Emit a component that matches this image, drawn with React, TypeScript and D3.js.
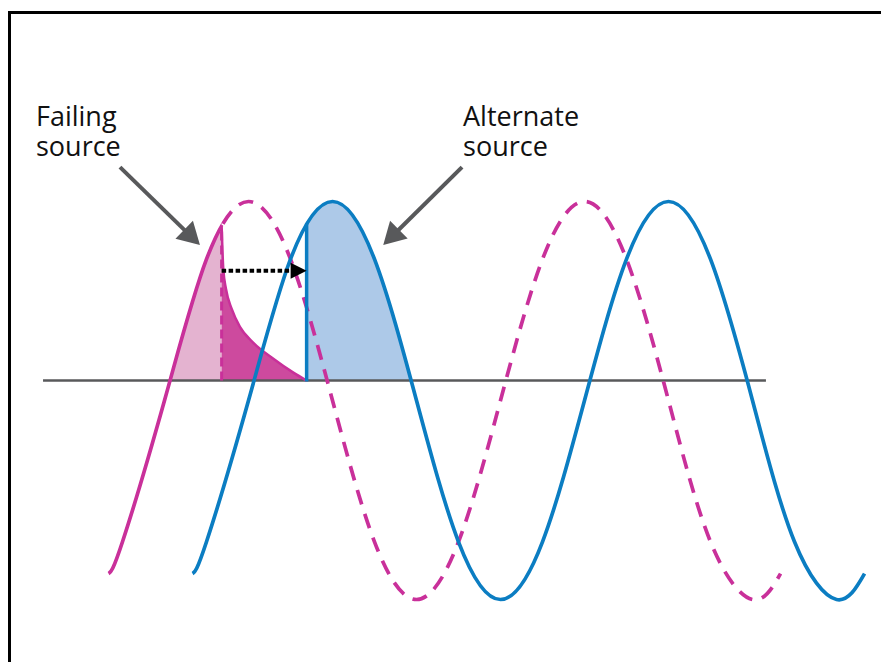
import * as d3 from 'd3';

// time in ms (50 Hz, 20 ms per cycle), value in per-unit of peak voltage
const failingT = [-3.33, -2.5, 0, 2.5, 5, 7.5, 10, 12.5, 15, 17.5, 20, 22.5, 25, 27.5, 30, 32.5, 35, 36.67];
const failingV = [-0.87, -0.71, 0, 0.71, 1, 0.71, 0, -0.71, -1, -0.71, 0, 0.71, 1, 0.71, 0, -0.71, -1, -0.87];

const alternateT = [1.67, 2.5, 5, 7.5, 10, 12.5, 15, 17.5, 20, 22.5, 25, 27.5, 30, 32.5, 35, 37.5, 40, 41.67];
const alternateV = [-0.87, -0.71, 0, 0.71, 1, 0.71, 0, -0.71, -1, -0.71, 0, 0.71, 1, 0.71, 0, -0.71, -1, -0.87];

// residual voltage of the failing source after it is cut off
const decayT = [3.4, 3.5, 3.66, 4.0, 4.49, 5.29, 6.48, 7.67, 8.46];
const decayV = [0.88, 0.66, 0.56, 0.46, 0.37, 0.29, 0.21, 0.14, 0.1];

const cutT = 3.4; // failing source drops out
const switchT = 8.46; // alternate source connected
const transferV = 0.652;
const baselineT = [-7.23, 35.8];
const baselineV = 0.1;
const fillEndT = 15;

const labelText = [['Failing', 'source'], ['Alternate', 'source']];
const labelT = [-7.65, 17.77];
const labelV = 1.379;
const pointerFrom = [[-2.65, 1.173], [17.71, 1.173]];
const pointerTo = [[2.11, 0.781], [13.02, 0.781]];

const W = 881;
const H = 662;
const MAGENTA = '#c9309a';
const BLUE = '#0b7dc2';
const GREY = '#58595b';

type Pt = [number, number];
const zip = (t: number[], v: number[]): Pt[] => t.map((d, i) => [d, v[i]]);

export default function App() {
  const x = d3.scaleLinear().domain([0, 20]).range([164.5, 500.5]);
  const y = d3.scaleLinear().domain([-1, 1]).range([599.5, 201.5]);

  const failing = zip(failingT, failingV);
  const alternate = zip(alternateT, alternateV);
  const decay = zip(decayT, decayV);

  const line = d3.line<Pt>().x((d) => x(d[0])).y((d) => y(d[1])).curve(d3.curveNatural);
  const area = d3
    .area<Pt>()
    .x((d) => x(d[0]))
    .y0(y(baselineV))
    .y1((d) => y(d[1]))
    .curve(d3.curveNatural);
  const decayLine = d3.line<Pt>().x((d) => x(d[0])).y((d) => y(d[1])).curve(d3.curveMonotoneX);
  const decayArea = d3
    .area<Pt>()
    .x((d) => x(d[0]))
    .y0(y(baselineV))
    .y1((d) => y(d[1]))
    .curve(d3.curveMonotoneX);

  const yBase = y(baselineV);
  const xCut = x(cutT);
  const xSwitch = x(switchT);

  // annotation pointers with filled heads
  const pointers = pointerFrom.map((from, i) => {
    const x1 = x(from[0]);
    const y1 = y(from[1]);
    const x2 = x(pointerTo[i][0]);
    const y2 = y(pointerTo[i][1]);
    const len = Math.hypot(x2 - x1, y2 - y1);
    const ux = (x2 - x1) / len;
    const uy = (y2 - y1) / len;
    const headL = 22;
    const headW = 12.5;
    const bx = x2 - ux * headL;
    const by = y2 - uy * headL;
    const head = [
      [x2, y2],
      [bx - uy * headW, by + ux * headW],
      [bx + uy * headW, by - ux * headW],
    ];
    return { x1, y1, x2: bx + ux * 2, y2: by + uy * 2, head: head.map((p) => p.join(',')).join(' ') };
  });

  const yTransfer = y(transferV);

  return (
    <svg
      width={W}
      height={H}
      style={{ position: 'absolute', left: 0, top: 0, background: '#fff' }}
      fontFamily="'Open Sans', 'Noto Sans', sans-serif"
    >
      <defs>
        <clipPath id="solidPart">
          <rect x={0} y={0} width={xCut} height={H} />
        </clipPath>
        <clipPath id="dashedPart">
          <rect x={xCut} y={0} width={W} height={H} />
        </clipPath>
        <clipPath id="pinkFill">
          <rect x={0} y={0} width={xCut} height={yBase} />
        </clipPath>
        <clipPath id="blueFill">
          <rect x={xSwitch} y={0} width={x(fillEndT) - xSwitch} height={yBase} />
        </clipPath>
      </defs>

      {/* frame, open to the right and bottom */}
      <path d={`M9.5,${H} V12.5 H${W}`} fill="none" stroke="#000" strokeWidth={3} />

      {/* fills */}
      <path d={area(failing) ?? ''} fill="#e4b3d0" clipPath="url(#pinkFill)" />
      <path d={decayArea(decay) ?? ''} fill="#cd4a9e" />
      <path d={area(alternate) ?? ''} fill="#adc9e8" clipPath="url(#blueFill)" />

      {/* zero line */}
      <line x1={x(baselineT[0])} x2={x(baselineT[1])} y1={yBase} y2={yBase} stroke={GREY} strokeWidth={2.5} />

      {/* cut-off marker */}
      <line
        x1={xCut}
        x2={xCut}
        y1={yBase}
        y2={y(decayV[0])}
        stroke={MAGENTA}
        strokeWidth={3}
        strokeDasharray="9 5"
      />
      <path d={decayLine(decay) ?? ''} fill="none" stroke={MAGENTA} strokeWidth={2.5} />

      {/* failing source */}
      <path d={line(failing) ?? ''} fill="none" stroke={MAGENTA} strokeWidth={3.7} clipPath="url(#solidPart)" />
      <path
        d={line(failing) ?? ''}
        fill="none"
        stroke={MAGENTA}
        strokeWidth={3.7}
        strokeDasharray="15 10"
        strokeDashoffset={6}
        clipPath="url(#dashedPart)"
      />

      {/* alternate source */}
      <path d={line(alternate) ?? ''} fill="none" stroke={BLUE} strokeWidth={3.7} />
      <line
        x1={xSwitch}
        x2={xSwitch}
        y1={yBase + 1}
        y2={y(0.89)}
        stroke={BLUE}
        strokeWidth={3.5}
      />

      {/* transfer arrow */}
      <line
        x1={xCut}
        x2={xSwitch - 14}
        y1={yTransfer}
        y2={yTransfer}
        stroke="#000"
        strokeWidth={4}
        strokeDasharray="4.5 2.5"
      />
      <polygon
        points={`${xSwitch},${yTransfer} ${xSwitch - 16},${yTransfer - 8} ${xSwitch - 16},${yTransfer + 8}`}
        fill="#000"
      />

      {/* annotations */}
      {pointers.map((p, i) => (
        <g key={i}>
          <line x1={p.x1} y1={p.y1} x2={p.x2} y2={p.y2} stroke={GREY} strokeWidth={4} />
          <polygon points={p.head} fill={GREY} />
        </g>
      ))}
      {labelText.map((lines, i) =>
        lines.map((s, j) => (
          <text key={`${i}-${j}`} x={x(labelT[i])} y={y(labelV) + j * 30} fontSize={27} fill="#111">
            {s}
          </text>
        ))
      )}
    </svg>
  );
}
